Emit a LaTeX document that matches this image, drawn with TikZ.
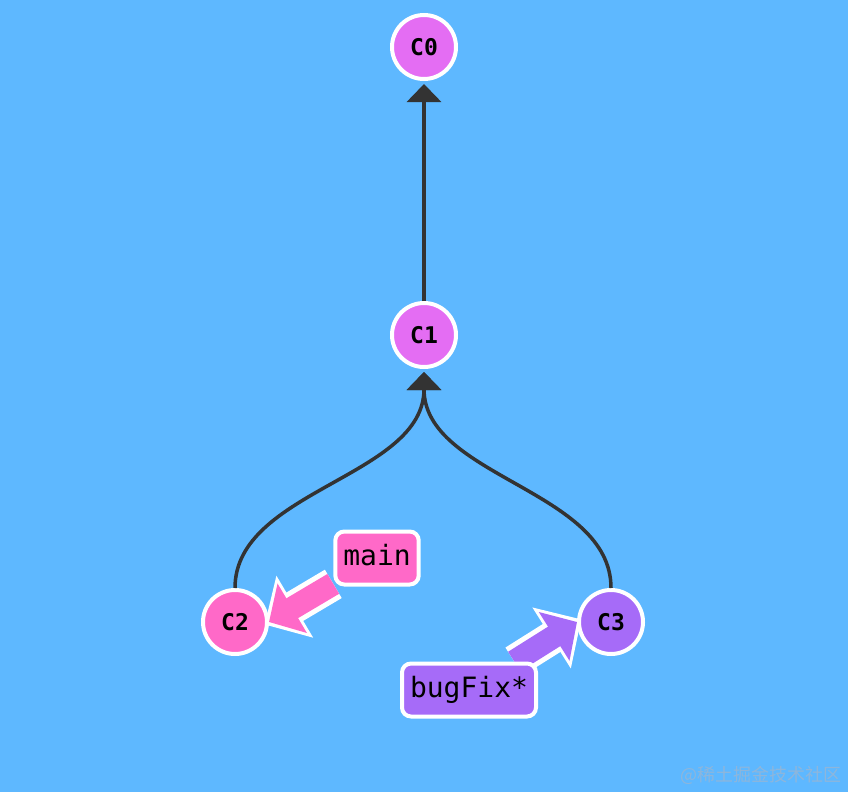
\documentclass[tikz,border=0pt]{standalone}
\usepackage{fontspec}
\setmonofont{DejaVu Sans Mono}
\newfontfamily\cjk{Noto Sans CJK SC}
\usetikzlibrary{arrows.meta}
\definecolor{ceu}{HTML}{5EB8FF}
\definecolor{magenta}{HTML}{E46DF3}
\definecolor{rosa}{HTML}{FF69C8}
\definecolor{roxo}{HTML}{A66BF8}
\definecolor{escuro}{HTML}{333333}
\definecolor{marca}{HTML}{8DB6DC}
\pgfdeclarelayer{fundo}
\pgfdeclarelayer{commits}
\pgfdeclarelayer{topo}
\pgfsetlayers{fundo,commits,main,topo}
\begin{document}
\begin{tikzpicture}[x=1pt,y=-1pt,
    commit/.style={circle,draw=white,line width=4pt,minimum size=64pt,inner sep=0pt,
      font=\ttfamily\bfseries\fontsize{23}{23}\selectfont},
    branch/.style={rectangle,rounded corners=9pt,draw=white,line width=4pt,minimum height=53pt,
      inner xsep=8pt,text height=20pt,text depth=5pt,font=\ttfamily\fontsize{28}{28}\selectfont},
    pai/.style={draw=escuro,line width=3.5pt,-{Triangle[length=18pt,width=34pt]},shorten >=3pt},
    borda/.style={draw=white,line width=33pt,-{Triangle[length=35pt,width=70pt]},shorten >=-5pt},
    seta/.style={line width=23pt,-{Triangle[length=27pt,width=56pt]},shorten >=0pt}]
    \useasboundingbox (0,0) rectangle (848,792);
    \begin{pgfonlayer}{fundo}
        \fill[ceu] (0,0) rectangle (848,792);
    \end{pgfonlayer}
    % Define os commits
    \begin{pgfonlayer}{commits}
        \node[commit,fill=magenta] (C0) at (424,47) {C0};
        \node[commit,fill=magenta] (C1) at (424,335) {C1};
        \node[commit,fill=rosa] (C2) at (235,622) {C2};
        \node[commit,fill=roxo] (C3) at (611,622) {C3};
        % Conecta commits
        \draw[pai] (C1) -- (C0);
        \draw[pai] (C2.north) .. controls (235,490) and (424,477) .. (C1.south);
        \draw[pai] (C3.north) .. controls (611,490) and (424,477) .. (C1.south);
    \end{pgfonlayer}
    % Define os ramos
    \begin{pgfonlayer}{topo}
        \node[branch,fill=rosa] (main) at (377,558) {main};
        \node[branch,fill=roxo] (bugFix) at (469,690) {bugFix*};
    \end{pgfonlayer}
    % Setas dos ramos
    \draw[borda] (main) -- (C2.east);
    \draw[seta,draw=rosa,fill=rosa] (main) -- (C2.east);
    \draw[borda] (bugFix) -- (C3.west);
    \draw[seta,draw=roxo,fill=roxo] (bugFix) -- (C3.west);
    % Marca d'agua
    \node[anchor=east,text=marca,inner sep=0pt,font=\cjk\fontsize{18}{18}\selectfont] (wm) at (842,775) {@稀土掘金技术社区};
\end{tikzpicture}
\end{document}
